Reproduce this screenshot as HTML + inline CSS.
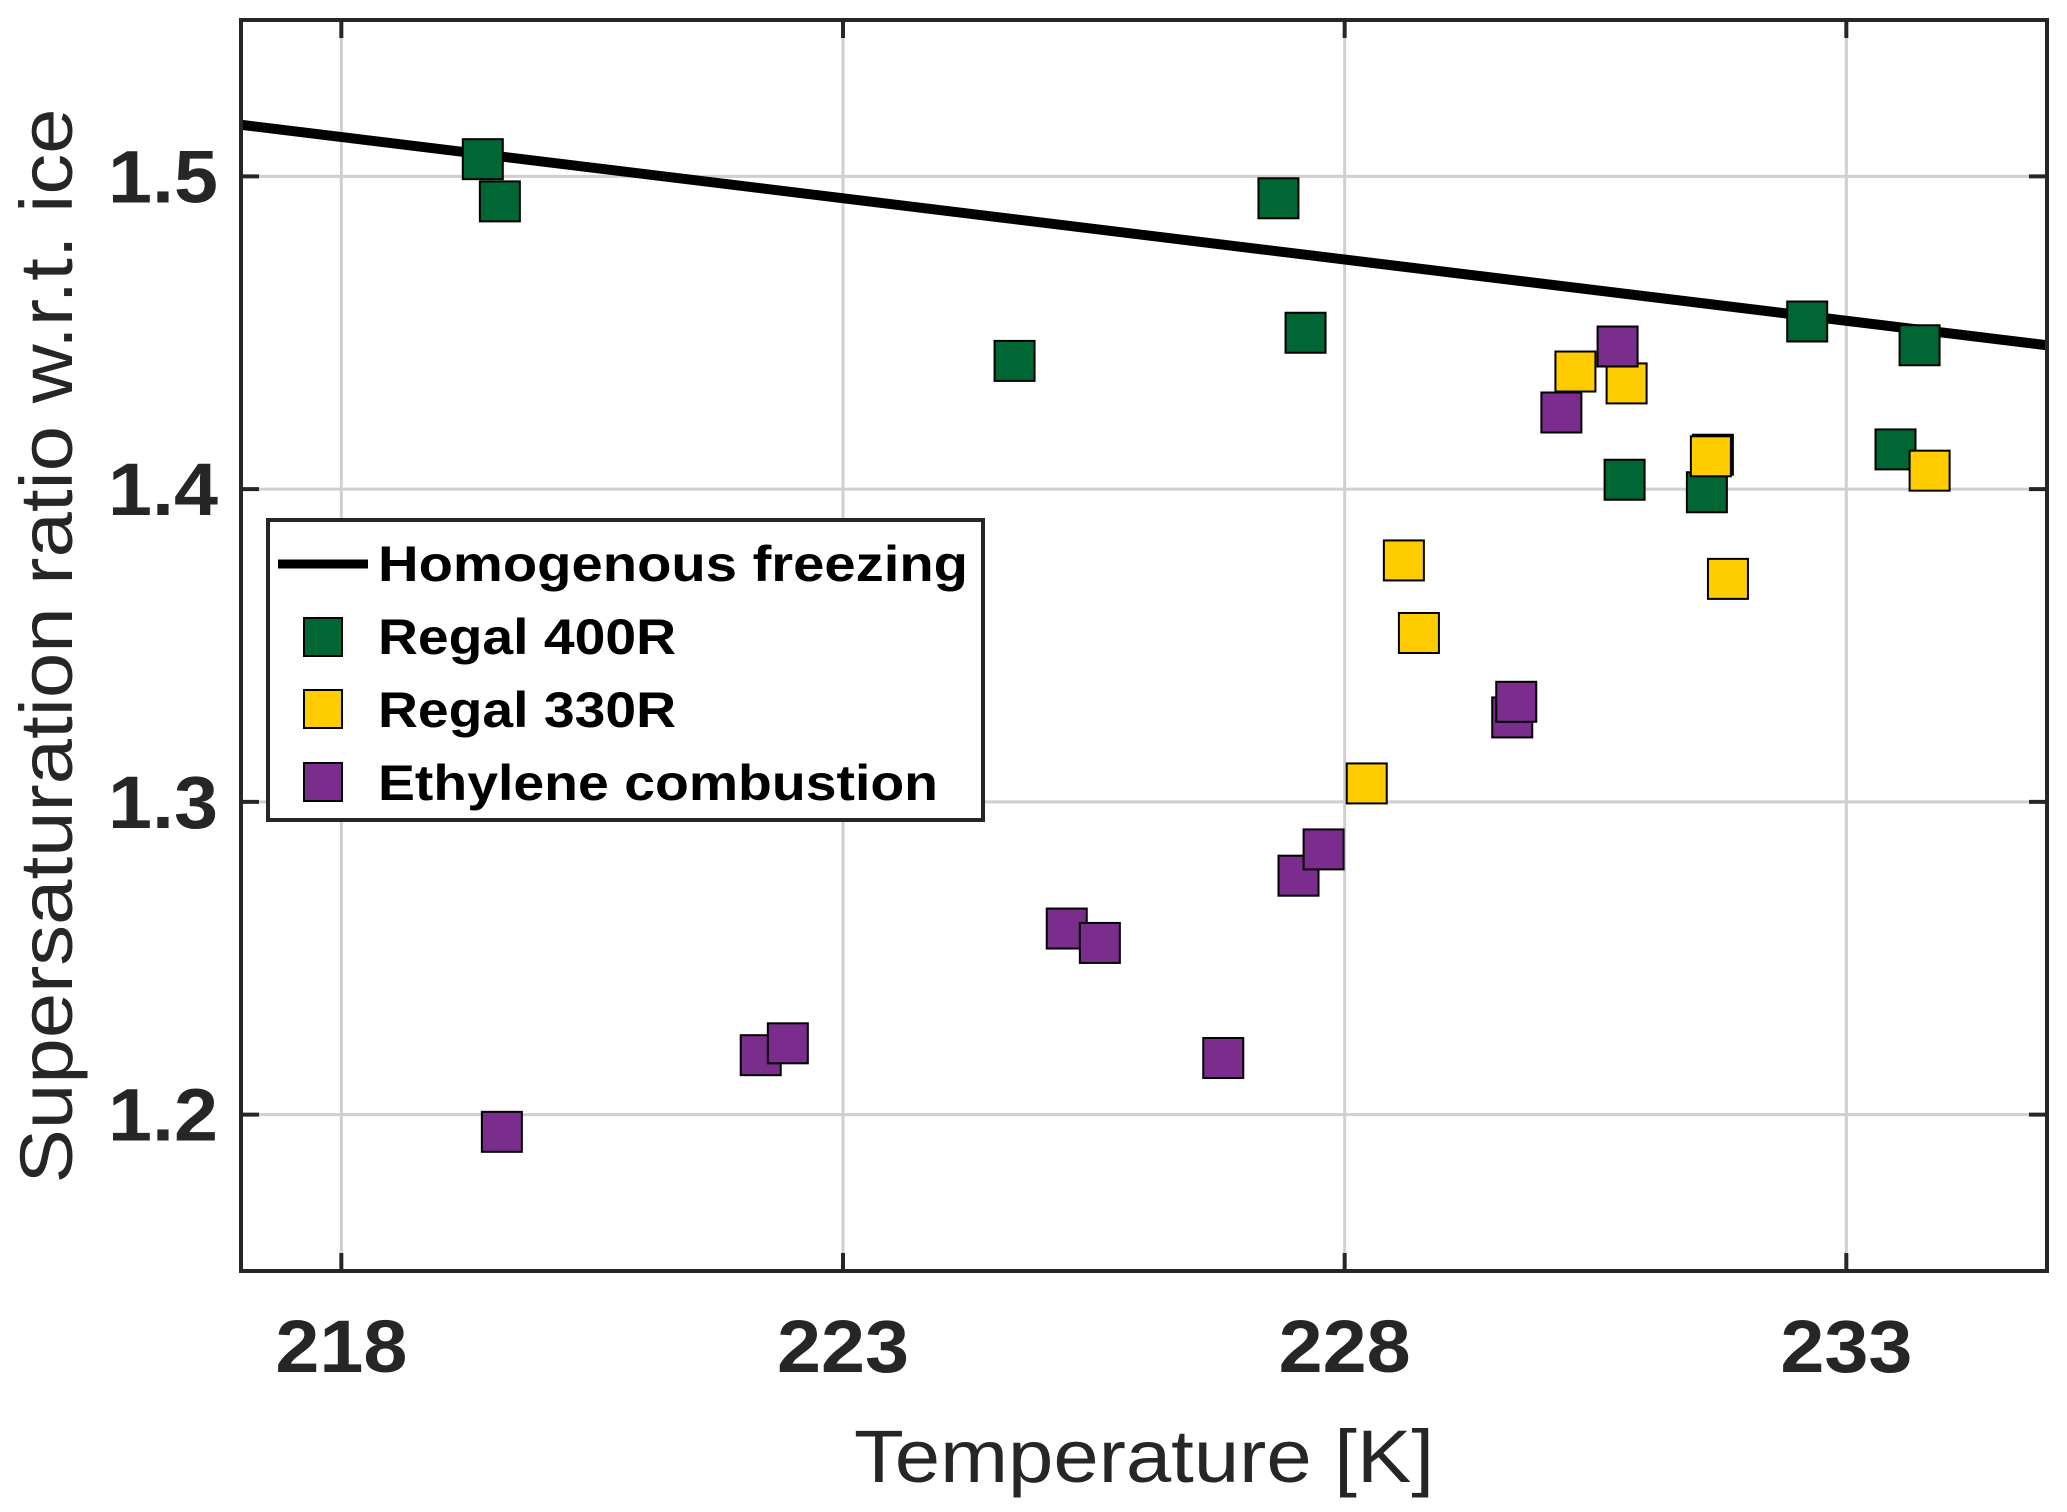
<!DOCTYPE html>
<html><head><meta charset="utf-8"><style>
body{margin:0;background:#fff}
svg{display:block;font-family:"Liberation Sans",Arial,sans-serif}
</style></head><body>
<svg id="chart" width="2067" height="1512" viewBox="0 0 2067 1512">
<g id="grid"></g>
<g id="marks"></g>
<g id="axes"></g>
<text x="1144" y="1482" font-size="74" text-anchor="middle" fill="#262626" textLength="580" lengthAdjust="spacingAndGlyphs">Temperature [K]</text>
<text transform="translate(72,646) rotate(-90)" font-size="74" text-anchor="middle" fill="#262626" textLength="1075" lengthAdjust="spacingAndGlyphs">Supersaturation ratio w.r.t. ice</text>
<g>
<rect x="268" y="520" width="715" height="300" fill="#fff" stroke="#262626" stroke-width="4"/>
<line x1="278" y1="564" x2="368" y2="564" stroke="#000" stroke-width="9"/>
<text x="378" y="581" font-size="50" font-weight="bold" fill="#000" textLength="590" lengthAdjust="spacingAndGlyphs">Homogenous freezing</text>
<rect x="304" y="618" width="38" height="38" fill="#006633" stroke="#000" stroke-width="2"/>
<text x="378" y="654" font-size="50" font-weight="bold" fill="#000" textLength="298" lengthAdjust="spacingAndGlyphs">Regal 400R</text>
<rect x="304" y="690" width="38" height="38" fill="#ffcc00" stroke="#000" stroke-width="2"/>
<text x="378" y="727" font-size="50" font-weight="bold" fill="#000" textLength="298" lengthAdjust="spacingAndGlyphs">Regal 330R</text>
<rect x="304" y="763" width="38" height="38" fill="#7b2d8e" stroke="#000" stroke-width="2"/>
<text x="378" y="800" font-size="50" font-weight="bold" fill="#000" textLength="560" lengthAdjust="spacingAndGlyphs">Ethylene combustion</text>
</g>
</svg>
<script>
const xTicks=[218,223,228,233];
const yTicks=[1.2,1.3,1.4,1.5];
const yTickLabels=["1.2","1.3","1.4","1.5"];
const lineT=[217,235];
const lineS=[1.5165,1.446];
const g400T=[219.41,219.58,224.71,227.34,227.61,230.79,231.67,231.61,232.61,233.49,233.73];
const g400S=[1.5055,1.492,1.441,1.493,1.450,1.403,1.411,1.399,1.4536,1.4127,1.446];
const g330T=[230.30,230.81,231.65,231.82,233.83,228.59,228.74,228.22];
const g330S=[1.4376,1.4338,1.4105,1.3713,1.4059,1.3772,1.354,1.3059];
const ethT=[219.60,222.18,222.45,225.23,225.56,226.79,227.54,227.79,229.67,229.71,230.16,230.72];
const ethS=[1.1945,1.219,1.2228,1.2595,1.2549,1.2181,1.2764,1.2848,1.327,1.332,1.4245,1.4456];
const L=241,R=2047,T=20,B=1271,x0=217,x1=235,y0=1.15,y1=1.55;
const X=v=>L+(v-x0)/(x1-x0)*(R-L);
const Y=v=>B-(v-y0)/(y1-y0)*(B-T);
const NS="http://www.w3.org/2000/svg";
function mk(tag,attrs,parent){const e=document.createElementNS(NS,tag);for(const k in attrs)e.setAttribute(k,attrs[k]);parent.appendChild(e);return e;}
const grid=document.getElementById('grid'),marks=document.getElementById('marks'),axes=document.getElementById('axes');
xTicks.forEach(t=>{
 const l=mk('line',{x1:X(t),x2:X(t),y1:T,y2:B,stroke:'#cfcfcf','stroke-width':3},grid);
 
 
 const tk=mk('line',{x1:X(t),x2:X(t),y1:B,y2:B-18,stroke:'#262626','stroke-width':4},axes);
 
 
 const tk2=mk('line',{x1:X(t),x2:X(t),y1:T,y2:T+18,stroke:'#262626','stroke-width':4},axes);
 
 
 const tx=mk('text',{x:X(t),y:1372,'font-size':74,'font-weight':'bold','text-anchor':'middle',fill:'#262626',textLength:132,lengthAdjust:'spacingAndGlyphs'},axes);
 tx.textContent=String(t);
 
 
});
yTicks.forEach((t,i)=>{
 const l=mk('line',{x1:L,x2:R,y1:Y(t),y2:Y(t),stroke:'#cfcfcf','stroke-width':3},grid);
 
 
 const tk=mk('line',{x1:L,x2:L+18,y1:Y(t),y2:Y(t),stroke:'#262626','stroke-width':4},axes);
 
 
 const tk2=mk('line',{x1:R,x2:R-18,y1:Y(t),y2:Y(t),stroke:'#262626','stroke-width':4},axes);
 
 
 const tx=mk('text',{x:218,y:Y(t)+26,'font-size':74,'font-weight':'bold','text-anchor':'end',fill:'#262626',textLength:110,lengthAdjust:'spacingAndGlyphs'},axes);
 tx.textContent=yTickLabels[i];
 
 
});
const box=mk('rect',{x:L,y:T,width:R-L,height:B-T,fill:'none',stroke:'#262626','stroke-width':4},axes);


const hl=mk('line',{x1:X(lineT[0]),y1:Y(lineS[0]),x2:X(lineT[1]),y2:Y(lineS[1]),stroke:'#000','stroke-width':10},marks);


function series(Ts,Ss,color,name){
 Ts.forEach((t,i)=>{
  const r=mk('rect',{x:X(t)-20,y:Y(Ss[i])-20,width:40,height:40,fill:color,stroke:'#000','stroke-width':2},marks);
  
  
 });
}
series(g400T,g400S,'#006633','point-regal400r');
series(g330T,g330S,'#ffcc00','point-regal330r');
series(ethT,ethS,'#7b2d8e','point-ethylene');
</script>
</body></html>
